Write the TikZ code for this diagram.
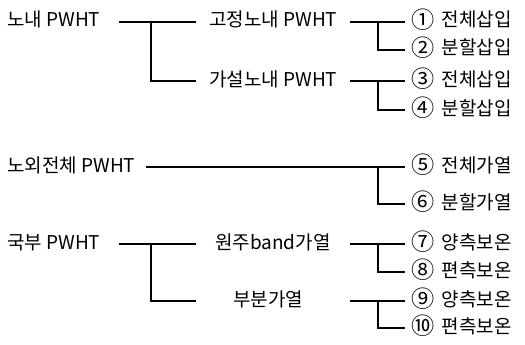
\documentclass[tikz,border=0pt]{standalone}
\usepackage{fontspec}
\setmainfont{Noto Sans CJK KR}
\newcommand{\cnum}[1]{\raisebox{-1.5pt}{\scalebox{1.22}{#1}}\hspace{3pt}}
\begin{document}
\begin{tikzpicture}[x=1pt,y=-1pt,
  lbl/.style={anchor=west,inner sep=0pt,text height=14pt,text depth=4pt,font=\fontsize{19}{21}\selectfont},
  conn/.style={line width=1.1pt,black}]
\useasboundingbox (0,0) rectangle (525,345);
% x positions of connector parts
\coordinate (sA) at (119,0);
\coordinate (jA) at (151,0);
\coordinate (eA) at (196,0);
\coordinate (sB) at (350,0);
\coordinate (jB) at (378,0);
\coordinate (eB) at (405,0);
\coordinate (sD) at (146,0);
% group 1
\node[lbl] (a)  at (7,22)   {노내 PWHT};
\node[lbl] (b1) at (209,22) {고정노내 PWHT};
\node[lbl] (b2) at (209,81) {가설노내 PWHT};
\node[lbl] (c1) at (411,22)  {\cnum{①} 전체삽입};
\node[lbl] (c2) at (411,50)  {\cnum{②} 분할삽입};
\node[lbl] (c3) at (411,81)  {\cnum{③} 전체삽입};
\node[lbl] (c4) at (411,110) {\cnum{④} 분할삽입};
% group 2
\node[lbl] (d)  at (7,167)   {노외전체 PWHT};
\node[lbl] (c5) at (411,167) {\cnum{⑤} 전체가열};
\node[lbl] (c6) at (411,204) {\cnum{⑥} 분할가열};
% group 3
\node[lbl] (e)  at (7,244)   {국부 PWHT};
\node[lbl] (f1) at (215,244) {원주band가열};
\node[lbl] (f2) at (233,301) {부분가열};
\node[lbl] (c7)  at (411,244) {\cnum{⑦} 양측보온};
\node[lbl] (c8)  at (411,272) {\cnum{⑧} 편측보온};
\node[lbl] (c9)  at (411,301) {\cnum{⑨} 양측보온};
\node[lbl] (c10) at (411,328) {\cnum{⑩} 편측보온};
% connectors group 1
\draw[conn] (a.west -| sA) -- (b1.west -| eA);
\draw[conn] (a.west -| jA) |- (b2.west -| eA);
\draw[conn] (b1.west -| sB) -- (c1.west -| eB);
\draw[conn] (b1.west -| jB) |- (c2.west -| eB);
\draw[conn] (b2.west -| sB) -- (c3.west -| eB);
\draw[conn] (b2.west -| jB) |- (c4.west -| eB);
% group 2
\draw[conn] (d.west -| sD) -- (c5.west -| eB);
\draw[conn] (d.west -| jB) |- (c6.west -| eB);
% group 3
\draw[conn] (e.west -| sA) -- (f1.west -| eA);
\draw[conn] (e.west -| jA) |- (f2.west -| eA);
\draw[conn] (f1.west -| sB) -- (c7.west -| eB);
\draw[conn] (f1.west -| jB) |- (c8.west -| eB);
\draw[conn] (f2.west -| sB) -- (c9.west -| eB);
\draw[conn] (f2.west -| jB) |- (c10.west -| eB);
\end{tikzpicture}
\end{document}
